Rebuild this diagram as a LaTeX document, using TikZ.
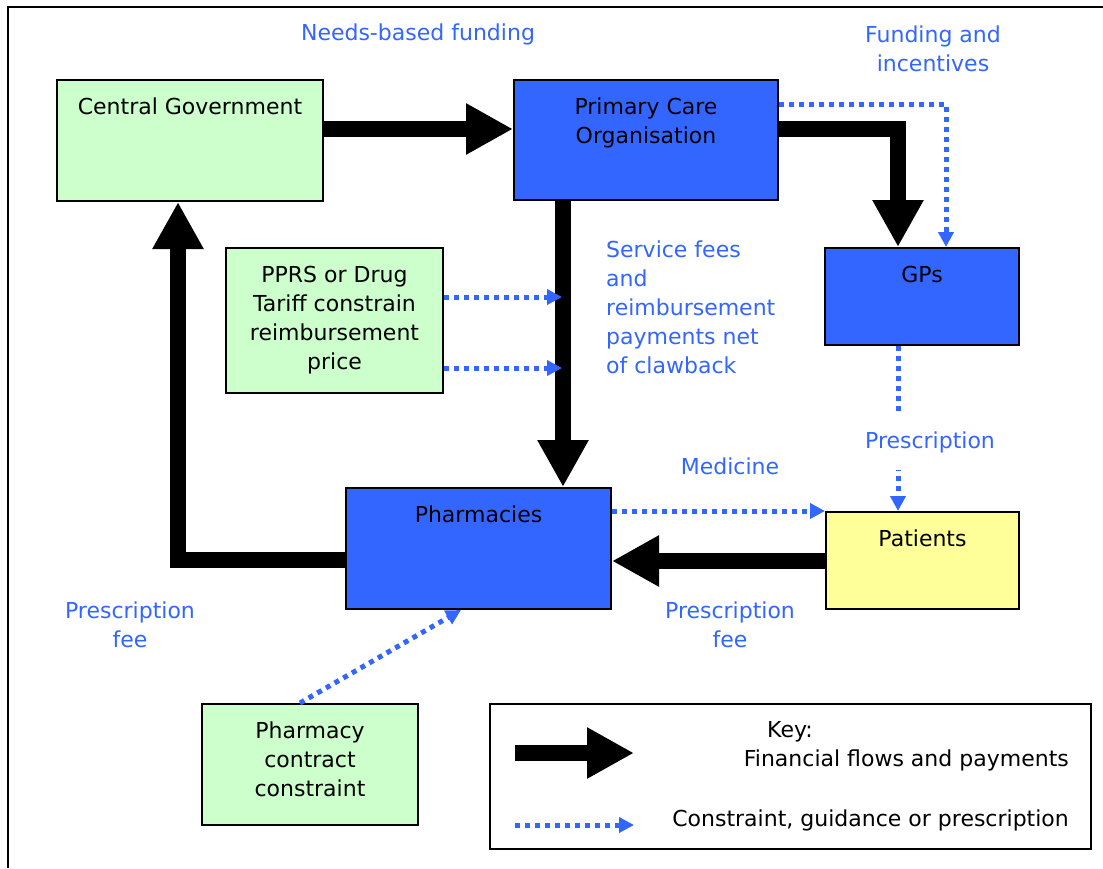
\documentclass[tikz,border=0pt]{standalone}
\usepackage{fontspec}
\setmainfont{DejaVu Sans}
\usepackage{xcolor}
\usepackage{tikz}
\usetikzlibrary{arrows.meta}

\definecolor{pcblue}{HTML}{3366FF}
\definecolor{govgreen}{HTML}{CCFFCC}
\definecolor{patyellow}{HTML}{FFFF99}

\tikzset{
    box/.style={draw, rectangle, line width=2pt, inner sep=0pt},
    boxtext/.style={anchor=north, align=center, inner sep=0pt, yshift=-19pt},
    note/.style={text=pcblue, align=center, inner sep=0pt},
    finflow/.style={line width=16pt, -{Triangle[length=47pt, width=48pt]}},
    constr/.style={draw=pcblue, line width=5pt, dash pattern=on 5pt off 5pt,
        -{Triangle[length=15pt, width=15pt]}}
}

\begin{document}
\begin{tikzpicture}[x=1pt, y=-1pt, font=\fontsize{22}{29}\selectfont]
    \useasboundingbox (0,0) rectangle (1103,868);
    % frame
    \draw[line width=2pt] (8,868) -- (8,7) -- (1103,7);

    % Central Government
    \node[box, fill=govgreen, minimum width=266pt, minimum height=121pt,
        label={[boxtext, name=cgtext]north:Central Government}] (cg) at (190,140.5) {};

    % Primary Care Organisation
    \node[box, fill=pcblue, minimum width=264pt, minimum height=120pt,
        label={[boxtext, name=pcotext]north:{Primary Care\\Organisation}}] (pco) at (646,140) {};

    % GPs
    \node[box, fill=pcblue, minimum width=194pt, minimum height=97pt,
        label={[boxtext, name=gpstext]north:GPs}] (gps) at (922,296.5) {};

    % PPRS / Drug Tariff
    \node[box, fill=govgreen, minimum width=217pt, minimum height=145pt,
        label={[boxtext, name=pprstext]north:{PPRS or Drug\\Tariff constrain\\reimbursement\\price}}] (pprs) at (334.5,320.5) {};

    % Pharmacies
    \node[box, fill=pcblue, minimum width=265pt, minimum height=121pt,
        label={[boxtext, name=pharmtext]north:Pharmacies}] (pharm) at (478.5,548.5) {};

    % Patients
    \node[box, fill=patyellow, minimum width=193pt, minimum height=97pt,
        label={[boxtext, name=pattext]north:Patients}] (pat) at (922.5,560.5) {};

    % Pharmacy contract
    \node[box, fill=govgreen, minimum width=216pt, minimum height=121pt,
        label={[boxtext, name=contracttext]north:{Pharmacy\\contract\\constraint}}] (contract) at (310,764.5) {};

    % Key
    \node[box, fill=white, minimum width=601pt, minimum height=145pt] (key) at (790.5,776.5) {};
    \node[inner sep=0pt] (keytitle) at (790,732) {Key:};
    \node[inner sep=0pt, anchor=east] (keyfin) at (1069,760) {Financial flows and payments};
    \node[inner sep=0pt, anchor=east] (keycon) at (1069,820) {Constraint, guidance or prescription};
    \coordinate (finA) at (515,753);
    \coordinate (finB) at (634,753);
    \coordinate (conA) at (515,825);
    \coordinate (conB) at (634,825);

    % Labels
    \node[note] (needs) at (418,34) {Needs-based funding};
    \node[note] (funding) at (933,48.5) {Funding and\\incentives};
    \node[note, align=left, anchor=north west] (fees) at (606,241)
        {Service fees\\and\\reimbursement\\payments net\\of clawback};
    \node[note] (medicine) at (730,466) {Medicine};
    \node[note] (feeleft) at (130,624.5) {Prescription\\fee};
    \node[note] (feeright) at (730,624.5) {Prescription\\fee};

    % Arrow ends
    \coordinate (pprsin1) at (562,297);
    \coordinate (pprsin2) at (562,368);
    \coordinate (cgout) at ([yshift=11.5pt]cg.east);
    \coordinate (pcodown) at ([xshift=-83pt]pco.south);
    \coordinate (patout) at ([yshift=-0.5pt]pat.west);
    \coordinate (gpsdown) at ([xshift=-24pt]gps.south);

    % Arrows
    \draw[finflow] (cgout) -- (cgout -| pco.west);
    \draw[finflow] ([yshift=11.5pt]pco.east) -| ([xshift=-24pt]gps.north);
    \draw[finflow] (pcodown) -- (pcodown |- pharm.north);
    \draw[finflow] ([yshift=-11.5pt]pharm.west) -| ([xshift=-12pt]cg.south);
    \draw[finflow] (patout) -- (patout -| pharm.east);
    \draw[finflow] (finA) -- (finB);

    \draw[constr] ([yshift=36pt]pco.east) -| ([xshift=24pt]gps.north);
    \draw[constr] (pprs.east |- pprsin1) -- (pprsin1);
    \draw[constr] (pprs.east |- pprsin2) -- (pprsin2);
    \draw[constr] (pharm.east |- pat.north west) -- (pat.north west);
    \draw[constr] (gpsdown) -- (gpsdown |- pat.north);
    \draw[constr] ([xshift=-10pt]contract.north) -- ([xshift=-17.5pt]pharm.south);
    \draw[constr] (conA) -- (conB);

    % Prescription label over the GP line
    \node[note, fill=white, inner xsep=4pt, inner ysep=17pt] (prescr) at (930,442) {Prescription};
\end{tikzpicture}
\end{document}
